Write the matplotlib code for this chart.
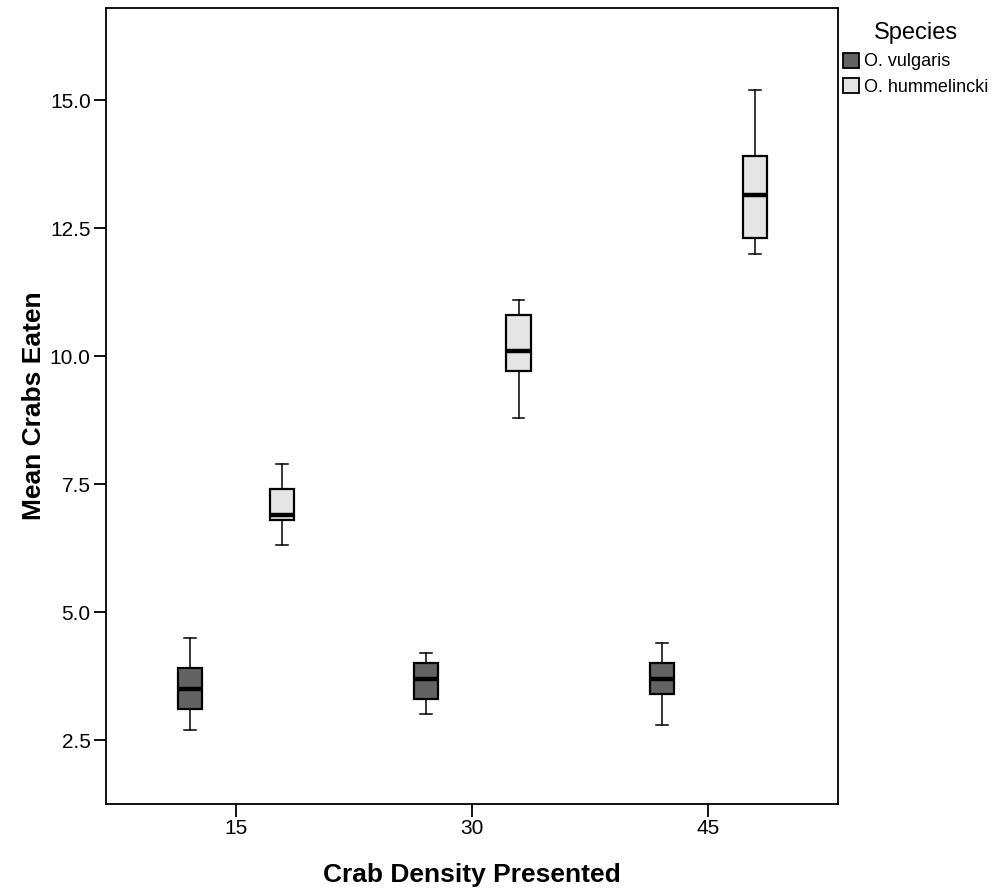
import numpy as np
import matplotlib
matplotlib.use("Agg")
import matplotlib.pyplot as plt
from matplotlib.patches import Patch

# data
densities = ["15", "30", "45"]
species = ["O. vulgaris", "O. hummelincki"]

vulgaris_whislo = [2.7, 3.0, 2.8]
vulgaris_q1 = [3.1, 3.3, 3.4]
vulgaris_med = [3.5, 3.7, 3.7]
vulgaris_q3 = [3.9, 4.0, 4.0]
vulgaris_whishi = [4.5, 4.2, 4.4]

hummel_whislo = [6.3, 8.8, 12.0]
hummel_q1 = [6.8, 9.7, 12.3]
hummel_med = [6.9, 10.1, 13.15]
hummel_q3 = [7.4, 10.8, 13.9]
hummel_whishi = [7.9, 11.1, 15.2]

colors = ["#636363", "#e5e5e5"]

plt.rcParams["font.family"] = ["Liberation Sans", "DejaVu Sans"]


def make_stats(lo, q1, med, q3, hi):
    out = []
    for i in range(len(lo)):
        out.append({"whislo": lo[i], "q1": q1[i], "med": med[i],
                    "q3": q3[i], "whishi": hi[i], "fliers": []})
    return out


fig = plt.figure(figsize=(10.03, 8.94), dpi=100)
ax = fig.add_axes([106 / 1003, 90 / 894, 732 / 1003, 796 / 894])

groups = [
    make_stats(vulgaris_whislo, vulgaris_q1, vulgaris_med, vulgaris_q3, vulgaris_whishi),
    make_stats(hummel_whislo, hummel_q1, hummel_med, hummel_q3, hummel_whishi),
]
offsets = [-0.195, 0.197]
x = np.arange(len(densities))

for stats, off, col in zip(groups, offsets, colors):
    ax.bxp(stats, positions=x + off, widths=0.102, capwidths=0.05,
           patch_artist=True, showfliers=False, manage_ticks=False,
           boxprops=dict(facecolor=col, edgecolor="black", linewidth=1.6),
           medianprops=dict(color="black", linewidth=3.2, solid_capstyle="butt"),
           whiskerprops=dict(color="black", linewidth=1.1),
           capprops=dict(color="black", linewidth=1.1))

ax.set_xlim(-0.55, 2.55)
ax.set_ylim(1.25, 16.8)
ax.set_xticks(x)
ax.set_xticklabels(densities)
ax.set_yticks([2.5, 5.0, 7.5, 10.0, 12.5, 15.0])
ax.set_yticklabels(["2.5", "5.0", "7.5", "10.0", "12.5", "15.0"])
ax.tick_params(axis="both", length=9, width=1.3, labelsize=15, pad=2)
for sp in ax.spines.values():
    sp.set_linewidth(1.3)

ax.set_xlabel("Crab Density Presented", fontsize=19, fontweight="bold", labelpad=18)
ax.set_ylabel("Mean Crabs Eaten", fontsize=19, fontweight="bold", labelpad=3)

handles = [Patch(facecolor=c, edgecolor="black", linewidth=1.3) for c in colors]
leg = fig.legend(handles, species, loc="upper left", bbox_to_anchor=(836 / 1003, 0.983),
                 frameon=False, title="Species", fontsize=13, title_fontsize=17,
                 handlelength=0.9, handleheight=0.9, handletextpad=0.25,
                 labelspacing=0.45, borderaxespad=0.2, borderpad=0.2)

fig.savefig("out.png", dpi=100)
